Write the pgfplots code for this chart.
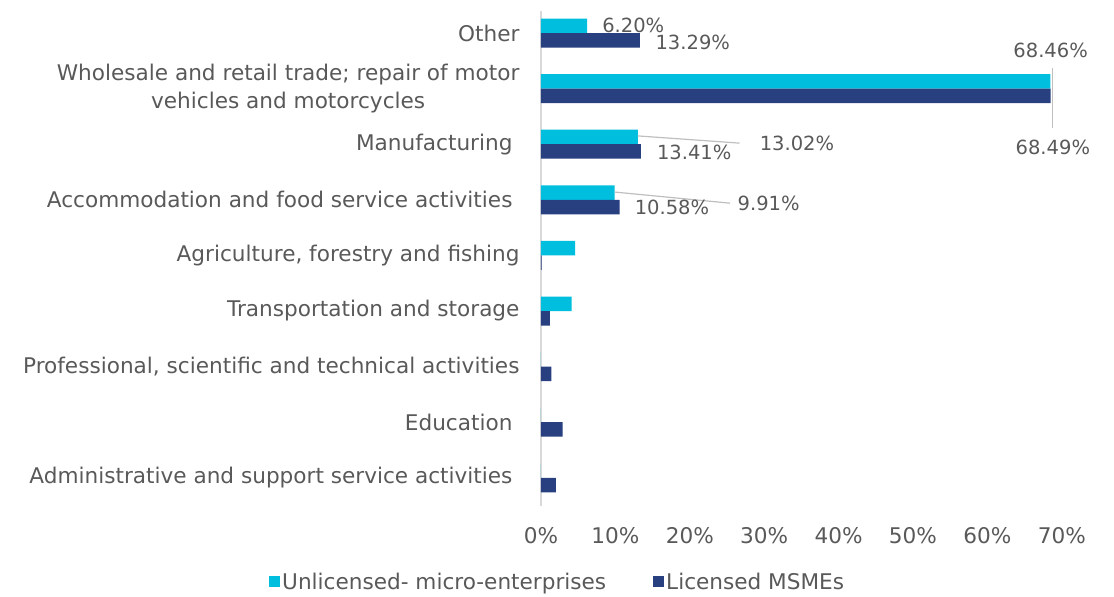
\documentclass[border=0pt]{standalone}
\usepackage{pgfplots}
\pgfplotsset{compat=1.18}
\usepackage{fontspec}
\setmainfont{DejaVu Sans}
\definecolor{cy}{HTML}{00BFDE}
\definecolor{nv}{HTML}{283F80}
\definecolor{tx}{HTML}{595959}
\begin{document}
\begin{tikzpicture}[x=1pt,y=1pt]
\useasboundingbox (0,0) rectangle (1114,-597);
\begin{axis}[
 at={(541pt,-505.6pt)}, anchor=south west,
 scale only axis, width=520.8pt, height=494.8pt,
 xmin=0, xmax=70, ymin=-0.4, ymax=8.5, y dir=reverse,
 bar width=14.5pt,
 ytick={0,...,8},
 yticklabels={Other,{Wholesale and retail trade; repair of motor\\vehicles and motorcycles},Manufacturing\rule{7pt}{0pt},Accommodation and food service activities\rule{7pt}{0pt},{Agriculture, forestry and fishing},Transportation and storage,{Professional, scientific and technical activities},Education\rule{7pt}{0pt},Administrative and support service activities\rule{7pt}{0pt}},
 xtick={0,10,...,70},
 xticklabels={0\%,10\%,20\%,30\%,40\%,50\%,60\%,70\%},
 axis lines*=left,
 x axis line style={draw=none},
 y axis line style={draw=black!15, line width=1.2pt},
 major tick length=0pt,
 tick label style={font=\fontsize{21.6}{28}\selectfont, text=tx},
 yticklabel style={align=center, xshift=-18pt},
 xticklabel style={yshift=-18pt},
 legend style={at={(0.032,-0.154)}, anchor=center, draw=none, legend columns=2,
   font=\fontsize{21.6}{24}\selectfont, text=tx,
   /tikz/every even column/.append style={column sep=45pt}},
 legend cell align=left,
 legend image code/.code={\fill[#1] (0pt,-5.5pt) rectangle (11pt,5.5pt);},
 clip=false,
]
\addplot[xbar, bar shift=7.25pt, fill=cy, draw=none] coordinates {
(6.20,0) (68.46,1) (13.02,2) (9.91,3) (4.6,4) (4.1,5) (0,6) (0,7) (0,8)};
\addplot[xbar, bar shift=-7.25pt, fill=nv, draw=none] coordinates {
(13.29,0) (68.49,1) (13.41,2) (10.58,3) (0.1,4) (1.2,5) (1.4,6) (2.9,7) (2.0,8)};
\legend{Unlicensed- micro-enterprises, Licensed MSMEs}
\draw[black!25, line width=1.2pt] (axis cs:68.7,0.63) -- (axis cs:68.7,1.71);
\draw[black!25, line width=1.2pt] (axis cs:13,1.85) -- (axis cs:26.7,1.98);
\draw[black!25, line width=1.2pt] (axis cs:9.9,2.86) -- (axis cs:25.4,3.06);
\begin{scope}[every node/.style={font=\fontsize{19.5}{24}\selectfont, text=tx}]
\node at (axis cs:12.4,-0.14) {6.20\%};
\node at (axis cs:20.4,0.16) {13.29\%};
\node at (axis cs:68.5,0.32) {68.46\%};
\node at (axis cs:68.8,2.05) {68.49\%};
\node at (axis cs:34.4,1.98) {13.02\%};
\node at (axis cs:20.6,2.14) {13.41\%};
\node at (axis cs:30.6,3.06) {9.91\%};
\node at (axis cs:17.6,3.13) {10.58\%};
\end{scope}
\end{axis}
\end{tikzpicture}
\end{document}
